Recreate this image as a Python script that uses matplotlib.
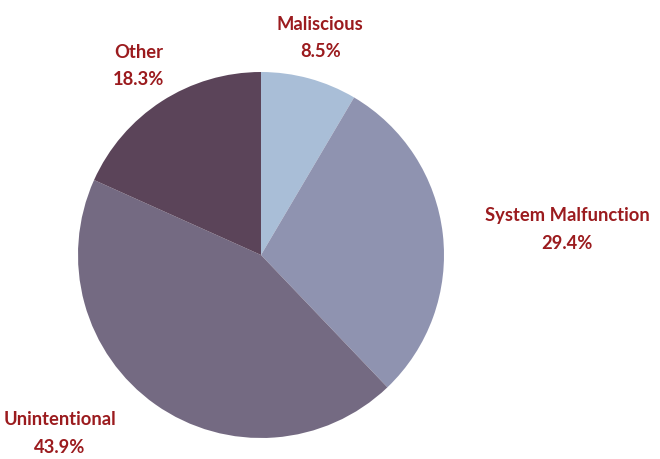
import matplotlib
matplotlib.use("Agg")
import matplotlib.pyplot as plt
import numpy as np

categories = ["Maliscious", "System Malfunction", "Unintentional", "Other"]
values = [8.5, 29.4, 43.9, 18.3]
colors = ["#A9BED7", "#8F93B0", "#746A82", "#5B4459"]
label_color = "#9B1B1E"

fig = plt.figure(figsize=(6.6, 4.59), dpi=100)
ax = fig.add_axes([78/660, 21/459, 366/660, 366/459])
wedges, _ = ax.pie(values, colors=colors, startangle=90, counterclock=False,
                   radius=1.0, wedgeprops=dict(linewidth=0))
ax.set_xlim(-1, 1)
ax.set_ylim(-1, 1)
ax.set_aspect("equal")
ax.axis("off")

aligns = ["center", "left", "right", "center"]
nudges_x = [0.0, 0.0, -0.08, 0.0]
nudges_y = [0.0, 0.0, 0.03, 0.0]
for w, cat, val, ha, nx, ny in zip(wedges, categories, values, aligns, nudges_x, nudges_y):
    ang = np.deg2rad((w.theta1 + w.theta2) / 2)
    d = 1.23
    x = d * np.cos(ang) + nx
    y = d * np.sin(ang) + ny
    ax.text(x, y, f"{cat}\n{val:.1f}%", ha=ha, va="center", multialignment="center",
            fontsize=13.2, fontweight="bold",
            family=["Lato", "DejaVu Sans"], color=label_color,
            linespacing=1.75)

fig.savefig("out.png", dpi=100)
